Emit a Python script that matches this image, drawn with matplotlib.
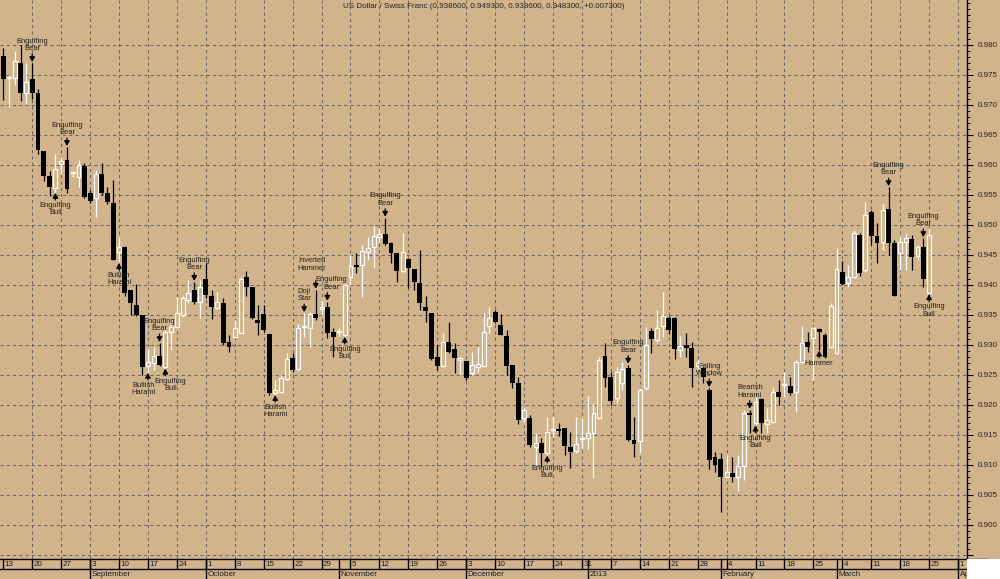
import numpy as np
import matplotlib
matplotlib.use('Agg')
import matplotlib.pyplot as plt
import matplotlib.transforms as mtransforms
from matplotlib.patches import Rectangle

plt.rcParams['font.family'] = ['Liberation Sans', 'DejaVu Sans']

# daily USD/CHF candles, 13 Aug 2012 .. 25 Mar 2013 (one per trading day)
opens = [0.9782, 0.9745, 0.9745, 0.9770, 0.9720, 0.9743, 0.9720, 0.9623, 0.9582, 0.9562,
         0.9602, 0.9608, 0.9587, 0.9580, 0.9598, 0.9553, 0.9545, 0.9585, 0.9553, 0.9537,
         0.9455, 0.9463, 0.9392, 0.9367, 0.9350, 0.9265, 0.9270, 0.9282, 0.9263, 0.9322,
         0.9330, 0.9350, 0.9375, 0.9392, 0.9372, 0.9410, 0.9382, 0.9362, 0.9370, 0.9305,
         0.9313, 0.9320, 0.9413, 0.9397, 0.9342, 0.9352, 0.9318, 0.9220, 0.9222, 0.9243,
         0.9278, 0.9260, 0.9330, 0.9328, 0.9352, 0.9360, 0.9363, 0.9322, 0.9322, 0.9317,
         0.9413, 0.9433, 0.9433, 0.9455, 0.9463, 0.9480, 0.9485, 0.9470, 0.9453, 0.9423,
         0.9443, 0.9427, 0.9403, 0.9363, 0.9353, 0.9280, 0.9265, 0.9305, 0.9293, 0.9275,
         0.9273, 0.9253, 0.9263, 0.9265, 0.9332, 0.9355, 0.9333, 0.9315, 0.9267, 0.9237,
         0.9178, 0.9178, 0.9130, 0.9137, 0.9120, 0.9158, 0.9160, 0.9162, 0.9130, 0.9123,
         0.9143, 0.9145, 0.9153, 0.9178, 0.9282, 0.9247, 0.9212, 0.9237, 0.9262, 0.9142,
         0.9140, 0.9228, 0.9323, 0.9308, 0.9332, 0.9345, 0.9345, 0.9292, 0.9300, 0.9295,
         0.9265, 0.9262, 0.9225, 0.9113, 0.9110, 0.9080, 0.9087, 0.9080, 0.9098, 0.9187,
         0.9170, 0.9210, 0.9168, 0.9172, 0.9222, 0.9233, 0.9232, 0.9222, 0.9272, 0.9305,
         0.9312, 0.9327, 0.9317, 0.9297, 0.9287, 0.9422, 0.9403, 0.9413, 0.9483, 0.9425,
         0.9522, 0.9482, 0.9472, 0.9527, 0.9470, 0.9453, 0.9472, 0.9477, 0.9448, 0.9463,
         0.9386]
highs = [0.9795, 0.9750, 0.9790, 0.9800, 0.9770, 0.9770, 0.9727, 0.9623, 0.9590, 0.9618,
         0.9613, 0.9630, 0.9590, 0.9608, 0.9603, 0.9558, 0.9592, 0.9603, 0.9563, 0.9575,
         0.9480, 0.9465, 0.9392, 0.9402, 0.9350, 0.9293, 0.9297, 0.9303, 0.9325, 0.9342,
         0.9380, 0.9382, 0.9408, 0.9405, 0.9408, 0.9437, 0.9392, 0.9388, 0.9378, 0.9317,
         0.9342, 0.9413, 0.9423, 0.9397, 0.9367, 0.9367, 0.9318, 0.9242, 0.9250, 0.9287,
         0.9287, 0.9335, 0.9353, 0.9355, 0.9392, 0.9375, 0.9372, 0.9328, 0.9328, 0.9402,
         0.9450, 0.9453, 0.9467, 0.9480, 0.9498, 0.9495, 0.9512, 0.9472, 0.9453, 0.9487,
         0.9443, 0.9427, 0.9458, 0.9382, 0.9353, 0.9300, 0.9320, 0.9338, 0.9303, 0.9280,
         0.9273, 0.9288, 0.9297, 0.9353, 0.9363, 0.9358, 0.9352, 0.9325, 0.9267, 0.9247,
         0.9197, 0.9183, 0.9153, 0.9145, 0.9180, 0.9180, 0.9170, 0.9162, 0.9155, 0.9180,
         0.9178, 0.9215, 0.9203, 0.9280, 0.9303, 0.9255, 0.9263, 0.9272, 0.9267, 0.9180,
         0.9228, 0.9330, 0.9328, 0.9358, 0.9388, 0.9348, 0.9347, 0.9315, 0.9320, 0.9305,
         0.9275, 0.9263, 0.9228, 0.9122, 0.9120, 0.9117, 0.9113, 0.9117, 0.9192, 0.9192,
         0.9213, 0.9212, 0.9195, 0.9230, 0.9242, 0.9255, 0.9247, 0.9275, 0.9332, 0.9322,
         0.9330, 0.9328, 0.9320, 0.9370, 0.9462, 0.9440, 0.9433, 0.9492, 0.9487, 0.9538,
         0.9525, 0.9503, 0.9535, 0.9563, 0.9475, 0.9480, 0.9487, 0.9483, 0.9467, 0.9478,
         0.9493]
lows = [0.9708, 0.9697, 0.9733, 0.9707, 0.9702, 0.9710, 0.9618, 0.9573, 0.9548, 0.9555,
        0.9587, 0.9553, 0.9580, 0.9563, 0.9545, 0.9537, 0.9513, 0.9550, 0.9535, 0.9442,
        0.9438, 0.9382, 0.9350, 0.9348, 0.9250, 0.9255, 0.9258, 0.9265, 0.9262, 0.9292,
        0.9328, 0.9347, 0.9370, 0.9368, 0.9345, 0.9378, 0.9343, 0.9360, 0.9300, 0.9288,
        0.9312, 0.9320, 0.9382, 0.9343, 0.9317, 0.9322, 0.9217, 0.9218, 0.9220, 0.9242,
        0.9255, 0.9258, 0.9313, 0.9297, 0.9342, 0.9350, 0.9312, 0.9280, 0.9315, 0.9315,
        0.9400, 0.9420, 0.9380, 0.9442, 0.9428, 0.9472, 0.9467, 0.9437, 0.9405, 0.9422,
        0.9395, 0.9392, 0.9358, 0.9338, 0.9275, 0.9258, 0.9263, 0.9287, 0.9253, 0.9252,
        0.9242, 0.9250, 0.9255, 0.9263, 0.9320, 0.9337, 0.9317, 0.9250, 0.9228, 0.9168,
        0.9172, 0.9130, 0.9100, 0.9097, 0.9117, 0.9147, 0.9148, 0.9117, 0.9095, 0.9120,
        0.9128, 0.9127, 0.9078, 0.9177, 0.9230, 0.9200, 0.9203, 0.9225, 0.9140, 0.9113,
        0.9120, 0.9225, 0.9287, 0.9305, 0.9313, 0.9318, 0.9277, 0.9280, 0.9280, 0.9230,
        0.9260, 0.9237, 0.9093, 0.9088, 0.9022, 0.9080, 0.9072, 0.9057, 0.9075, 0.9153,
        0.9167, 0.9153, 0.9153, 0.9170, 0.9200, 0.9213, 0.9217, 0.9188, 0.9270, 0.9288,
        0.9242, 0.9292, 0.9278, 0.9295, 0.9285, 0.9400, 0.9397, 0.9412, 0.9415, 0.9422,
        0.9467, 0.9437, 0.9458, 0.9450, 0.9382, 0.9425, 0.9425, 0.9425, 0.9442, 0.9397,
        0.9386]
closes = [0.9743, 0.9747, 0.9773, 0.9720, 0.9738, 0.9720, 0.9625, 0.9582, 0.9563, 0.9593,
          0.9607, 0.9560, 0.9588, 0.9600, 0.9547, 0.9540, 0.9585, 0.9553, 0.9538, 0.9442,
          0.9463, 0.9387, 0.9370, 0.9350, 0.9263, 0.9272, 0.9282, 0.9267, 0.9322, 0.9330,
          0.9353, 0.9378, 0.9387, 0.9372, 0.9397, 0.9383, 0.9363, 0.9372, 0.9303, 0.9297,
          0.9328, 0.9410, 0.9397, 0.9345, 0.9337, 0.9325, 0.9220, 0.9225, 0.9245, 0.9277,
          0.9258, 0.9328, 0.9332, 0.9352, 0.9345, 0.9363, 0.9320, 0.9313, 0.9323, 0.9400,
          0.9432, 0.9430, 0.9457, 0.9462, 0.9482, 0.9485, 0.9468, 0.9453, 0.9423, 0.9455,
          0.9428, 0.9405, 0.9370, 0.9357, 0.9277, 0.9265, 0.9305, 0.9288, 0.9278, 0.9278,
          0.9245, 0.9267, 0.9268, 0.9322, 0.9345, 0.9338, 0.9317, 0.9265, 0.9237, 0.9175,
          0.9192, 0.9133, 0.9137, 0.9120, 0.9155, 0.9160, 0.9157, 0.9132, 0.9122, 0.9135,
          0.9145, 0.9153, 0.9187, 0.9275, 0.9245, 0.9207, 0.9255, 0.9260, 0.9142, 0.9135,
          0.9225, 0.9300, 0.9310, 0.9328, 0.9348, 0.9325, 0.9293, 0.9298, 0.9295, 0.9262,
          0.9270, 0.9247, 0.9108, 0.9100, 0.9080, 0.9088, 0.9080, 0.9098, 0.9187, 0.9183,
          0.9205, 0.9170, 0.9175, 0.9222, 0.9213, 0.9235, 0.9220, 0.9272, 0.9303, 0.9297,
          0.9328, 0.9322, 0.9280, 0.9365, 0.9427, 0.9402, 0.9413, 0.9487, 0.9420, 0.9517,
          0.9482, 0.9470, 0.9525, 0.9470, 0.9382, 0.9472, 0.9478, 0.9447, 0.9463, 0.9410,
          0.9483]

# bottom date strip
monday_idx = list(range(0, 166, 5))
monday_labels = ['13', '20', '27', '3', '10', '17', '24', '1', '8', '15', '22', '29',
                 '5', '12', '19', '26', '3', '10', '17', '24', '31', '7', '14', '21', '28',
                 '4', '11', '18', '25', '4', '11', '18', '25', '1']
month_idx = [15, 35, 58, 80, 101, 124, 144, 165]
month_names = ['September', 'October', 'November', 'December', '2013',
               'February', 'March', 'April']

# candlestick pattern marks
pat_names = ['Engulfing\nBear', 'Engulfing\nBull', 'Engulfing\nBear', 'Bullish\nHarami',
             'Bullish\nHarami', 'Engulfing\nBear', 'Engulfing\nBull', 'Engulfing\nBear',
             'Bullish\nHarami', 'Doji\nStar', 'Inverted\nHammer', 'Engulfing\nBear',
             'Engulfing\nBull', 'Engulfing\nBear', 'Engulfing\nBull', 'Engulfing\nBear',
             'Falling\nWindow', 'Bearish\nHarami', 'Engulfing\nBull', 'Hammer',
             'Engulfing\nBear', 'Engulfing\nBear', 'Engulfing\nBull']
pat_days = [5, 9, 11, 20, 25, 27, 28, 33, 47, 52, 54, 56, 59, 66, 94, 108, 122, 129,
            130, 141, 153, 159, 160]
pat_up = [False, True, False, True, True, False, True, False, True, False, False, False,
          True, False, True, False, False, False, True, True, False, False, True]
# small nudges (pixels) so crowded labels do not sit on top of each other
nudge = {25: (-4, 0), 28: (5, 0), 54: (-4, 7), 56: (4, 0)}

BG = '#d2b48c'
W, H = 1000, 579
STRIP = 20

o = np.array(opens); h = np.array(highs); l = np.array(lows); c = np.array(closes)
x = np.arange(len(o))
up = c >= o
top = np.maximum(o, c)
bot = np.minimum(o, c)

fig = plt.figure(figsize=(W / 100, H / 100), dpi=100, facecolor=BG)
ax = fig.add_axes([0, STRIP / H, 967 / W, (H - STRIP) / H], facecolor=BG)

ax.vlines(x[up], top[up], h[up], color='white', lw=0.9, zorder=3)
ax.vlines(x[up], l[up], bot[up], color='white', lw=0.9, zorder=3)
ax.vlines(x[~up], l[~up], h[~up], color='black', lw=0.9, zorder=3)
ax.bar(x[~up], (o - c)[~up], bottom=c[~up], width=0.84, color='black', lw=0, zorder=4)
ax.bar(x[up], (c - o)[up], bottom=o[up], width=0.68, facecolor=BG,
       edgecolor='white', lw=0.85, zorder=4)

arrow = dict(arrowstyle='-|>,head_length=0.28,head_width=0.16', color='black',
             lw=0.9, shrinkA=0, shrinkB=0.8)
for name, d, bull in zip(pat_names, pat_days, pat_up):
    dx, dy = nudge.get(d, (0, 0))
    if bull:
        ax.annotate('', xy=(d, l[d]), xytext=(0, -8), textcoords='offset pixels',
                    arrowprops=arrow, zorder=6)
        ax.annotate(name, xy=(d, l[d]), xytext=(dx, -10 + dy), textcoords='offset pixels',
                    ha='center', va='top', fontsize=5.4, color='#1e1e1e',
                    linespacing=1.05, zorder=6)
    else:
        ax.annotate('', xy=(d, h[d]), xytext=(0, 9), textcoords='offset pixels',
                    arrowprops=arrow, zorder=6)
        ax.annotate(name, xy=(d, h[d]), xytext=(dx, 11 + dy), textcoords='offset pixels',
                    ha='center', va='bottom', fontsize=5.4, color='#1e1e1e',
                    linespacing=1.05, zorder=6)

ax.set_xlim(-0.57, 166.55)
ax.set_ylim(0.8943, 0.9875)

ax.yaxis.tick_right()
yt = np.round(np.arange(0.895, 0.9801, 0.005), 3)
ax.set_yticks(yt)
ax.set_yticklabels(['' if v < 0.8999 else f'{v:.3f}' for v in yt])
ax.set_yticks(np.round(np.arange(0.895, 0.9875, 0.001), 3), minor=True)
ax.tick_params(axis='y', which='major', length=4.5, width=0.8, color='black',
               labelsize=5.8, labelcolor='#222222', pad=3.5)
ax.tick_params(axis='y', which='minor', length=2.2, width=0.7, color='black')
ax.set_xticks(monday_idx[1:])
ax.tick_params(axis='x', length=0, labelbottom=False)
ax.grid(True, which='major', color='#6a6560', linestyle=(0, (3, 3)), lw=0.75)
ax.set_axisbelow(True)
for side in ['left', 'top', 'bottom']:
    ax.spines[side].set_visible(False)
ax.spines['right'].set_color('black')
ax.spines['right'].set_linewidth(1.0)

title = 'US Dollar / Swiss Franc ({:.6f}, {:.6f}, {:.6f}, {:.6f}, {:+.6f})'.format(
    opens[-1], highs[-1], lows[-1], closes[-1], closes[-1] - closes[-2])
fig.text(483.5 / W, 1 - 6.5 / H, title, ha='center', va='center', fontsize=5.8,
         color='#222222')

# date strip
ax2 = fig.add_axes([0, 0, 967 / W, STRIP / H], facecolor=BG)
ax2.set_xlim(ax.get_xlim())
ax2.set_ylim(0, 2)
for s in ax2.spines.values():
    s.set_visible(False)
ax2.set_xticks([])
ax2.set_yticks([])
ax2.plot([-1, 170], [1.96, 1.96], color='black', lw=1.0, clip_on=False)
ax2.plot([-1, 170], [1.0, 1.0], color='black', lw=1.0)
ax2.vlines(monday_idx, 1, 2, color='black', lw=1.0)
ax2.vlines(month_idx, 0, 2, color='black', lw=1.0)
shift = mtransforms.offset_copy(ax2.transData, fig=fig, x=1.5, y=0, units='dots')
for pos, lab in zip(monday_idx, monday_labels):
    ax2.text(pos, 1.48, lab, transform=shift, ha='left', va='center', fontsize=5.8,
             color='#1e1e1e', clip_on=True)
for pos, lab in zip(month_idx, month_names):
    ax2.text(pos, 0.45, lab, transform=shift, ha='left', va='center', fontsize=5.8,
             color='#1e1e1e', clip_on=True)

fig.add_artist(Rectangle((967 / W, 0), 1 - 967 / W, STRIP / H, transform=fig.transFigure,
                         facecolor='white', edgecolor='none'))

fig.savefig('out.png', dpi=100, facecolor=BG)
